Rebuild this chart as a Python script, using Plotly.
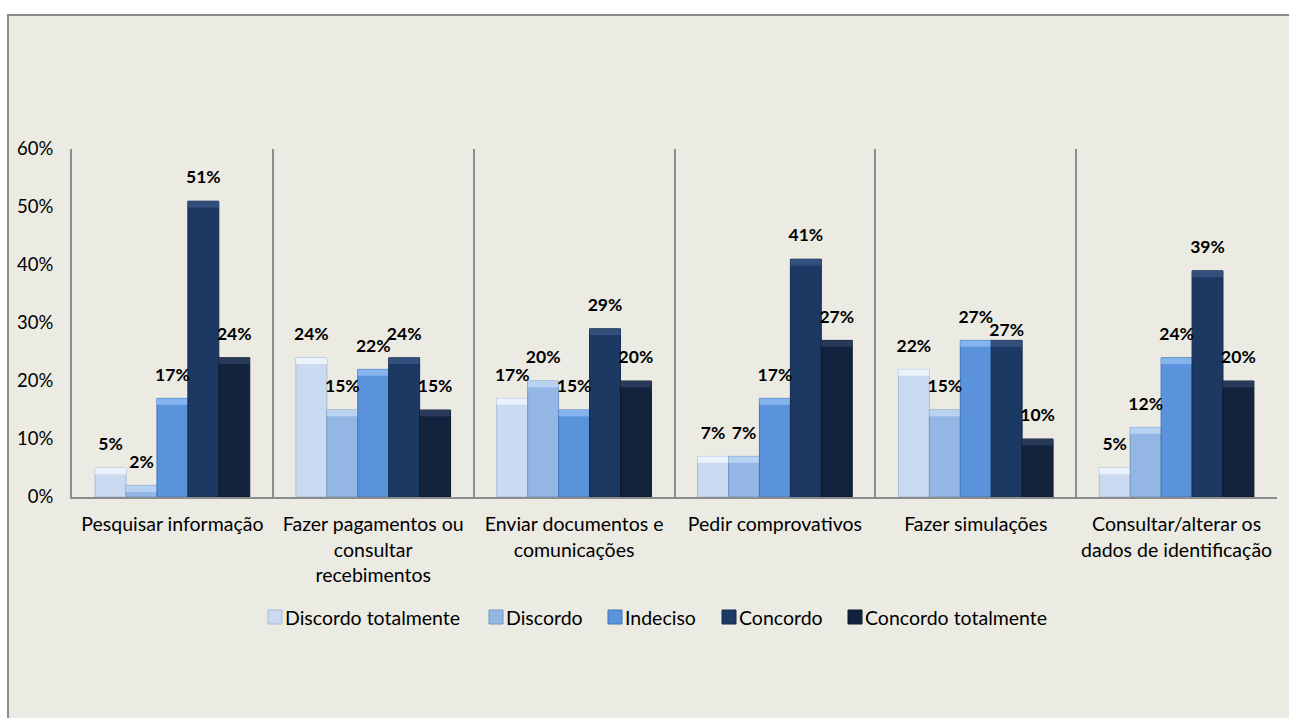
import plotly.graph_objects as go

# Survey categories (x axis) and response levels (series)
categories = [
    "Pesquisar informação",
    "Fazer pagamentos ou<br>consultar<br>recebimentos",
    "Enviar documentos e<br>comunicações",
    "Pedir comprovativos",
    "Fazer simulações",
    "Consultar/alterar os<br>dados de identificação",
]
series_names = ["Discordo totalmente", "Discordo", "Indeciso", "Concordo", "Concordo totalmente"]

discordo_totalmente = [5, 24, 17, 7, 22, 5]
discordo = [2, 15, 20, 7, 15, 12]
indeciso = [17, 22, 15, 17, 27, 24]
concordo = [51, 24, 29, 41, 27, 39]
concordo_totalmente = [24, 15, 20, 27, 10, 20]

series_values = [discordo_totalmente, discordo, indeciso, concordo, concordo_totalmente]
colors = ["#CADAF0", "#93B6E4", "#5A93DC", "#1C3964", "#13233E"]
cap_colors = ["#EAF2FC", "#B8D2F2", "#84B3EE", "#33507C", "#28395A"]
edge_colors = ["#A9BCD6", "#7396C4", "#3F74B8", "#142B4D", "#0C182C"]

FONT = "Lato, 'Open Sans', sans-serif"
CAP = 0.011  # height of the bevel highlight on top of each bar

# Value labels sit this far (marker diameter, px) above their bar;
# the Concordo label in "Fazer simulações" is tucked down next to its neighbour.
LABEL_LIFT = 20
label_tucked = {(3, 4)}

# Plot-area geometry in pixels (used to place the custom legend)
W, H = 1289, 718
L, R, T, B = 72, 12, 149, 221
PW, PH = W - L - R, H - T - B


def px_x(p):
    return (p - L) / PW


def px_y(p):
    return (H - B - p) / PH


fig = go.Figure()
for i, (name, vals, col, cap, edge) in enumerate(zip(series_names, series_values, colors, cap_colors, edge_colors)):
    heights = [v / 100 for v in vals]
    grp = f"g{i}"
    # main bar
    fig.add_trace(go.Bar(
        name=name, x=categories, y=heights, offsetgroup=grp,
        marker=dict(color=col, line=dict(color=edge, width=1)),
        showlegend=False, hoverinfo="x+y+name",
    ))
    # lighter bevel on the top of the bar
    cap_h = [min(CAP, h * 0.6) for h in heights]
    fig.add_trace(go.Bar(
        name=name, x=categories, y=cap_h, base=[h - c for h, c in zip(heights, cap_h)],
        offsetgroup=grp,
        marker=dict(color=cap, line=dict(width=0)),
        showlegend=False, hoverinfo="skip",
    ))
    # value labels above the bars (transparent marker lifts the text)
    sizes = [0 if (i, j) in label_tucked else LABEL_LIFT for j in range(len(vals))]
    fig.add_trace(go.Scatter(
        x=categories, y=heights, offsetgroup=grp, mode="markers+text",
        marker=dict(size=sizes, opacity=0),
        text=[f"{v}%" for v in vals], textposition="top center",
        textfont=dict(family=FONT, size=17.5, color="#000000", weight="bold"),
        cliponaxis=False, showlegend=False, hoverinfo="skip",
    ))

# Beige chart panel with grey frame
fig.add_shape(
    type="rect", xref="paper", yref="paper",
    x0=px_x(8), x1=px_x(W + 20), y0=px_y(H + 20), y1=px_y(15),
    fillcolor="#ECEBE3", line=dict(color="#8C8C8C", width=2),
    layer="below",
)

# Legend: small square swatch followed by the series name
legend_x = [268, 489, 608, 722, 848]
legend_y = 617
sw = 14
for name, col, edge, lx in zip(series_names, colors, edge_colors, legend_x):
    fig.add_shape(
        type="rect", xref="paper", yref="paper",
        x0=px_x(lx), x1=px_x(lx + sw), y0=px_y(legend_y + sw / 2), y1=px_y(legend_y - sw / 2),
        fillcolor=col, line=dict(color=edge, width=1),
    )
    fig.add_annotation(
        xref="paper", yref="paper", x=px_x(lx + sw + 1), y=px_y(legend_y),
        xanchor="left", yanchor="middle", showarrow=False, text=name,
        font=dict(family=FONT, size=19.5, color="#000000"),
    )

fig.update_layout(
    width=W, height=H,
    margin=dict(l=L, r=R, t=T, b=B),
    paper_bgcolor="#FFFFFF",
    plot_bgcolor="rgba(0,0,0,0)",
    barmode="group",
    bargap=0.23,
    bargroupgap=0,
    scattermode="group",
    scattergap=0.23,
    font=dict(family=FONT, size=18.5, color="#000000"),
    showlegend=False,
    xaxis=dict(
        showline=True, linecolor="#8C8C8C", linewidth=2,
        showgrid=True, gridcolor="#8C8C8C", gridwidth=1.5,
        tickson="boundaries", ticks="",
        tickfont=dict(family=FONT, size=19.5, color="#000000"),
        ticklabelstandoff=9,
    ),
    yaxis=dict(
        range=[0, 0.6], dtick=0.1, tickformat=".0%",
        showline=True, linecolor="#8C8C8C", linewidth=2,
        showgrid=False, zeroline=False, ticks="",
        tickfont=dict(family=FONT, size=18.5, color="#000000"),
        ticklabelstandoff=13,
    ),
)

fig.write_html("out.html")
